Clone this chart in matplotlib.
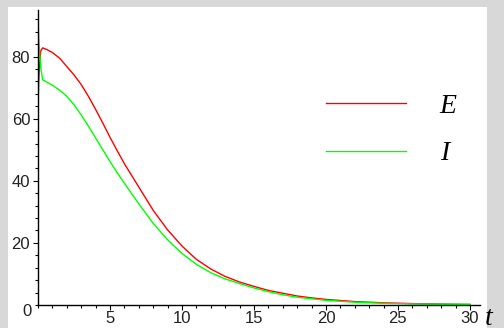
import numpy as np
import matplotlib.pyplot as plt
from matplotlib.patches import Rectangle
from matplotlib.ticker import MultipleLocator

# values
t = [0, 0.05, 0.1, 0.2, 0.33, 0.6, 1, 1.5, 2, 2.5, 3, 3.5, 4, 4.5, 5, 5.5, 6,
     7, 8, 9, 10, 11, 12, 13, 14, 15, 16, 17, 18, 19, 20, 22, 24, 26, 28, 30]
E = [63.5, 72, 77, 82, 82.8, 82.3, 81.3, 79.5, 76.8, 74.1, 71, 67.2, 63, 58.6,
     54, 49.7, 45.5, 38, 30.5, 24.2, 19, 14.7, 11.6, 9.2, 7.4, 6.0, 4.7, 3.8,
     2.9, 2.3, 1.8, 1.1, 0.7, 0.45, 0.3, 0.2]
I = [92, 86, 82, 76, 72.5, 71.8, 70.8, 69.2, 67.2, 64.5, 61.2, 57.6, 53.8,
     50.0, 46.2, 42.6, 39.2, 32.6, 26.3, 21, 16.6, 13.1, 10.4, 8.4, 6.9, 5.5,
     4.3, 3.3, 2.5, 2.0, 1.5, 0.9, 0.55, 0.35, 0.22, 0.15]
x_ticks = [5, 10, 15, 20, 25, 30]
y_ticks = [20, 40, 60, 80]

W, H = 504, 328
fig = plt.figure(figsize=(W / 100, H / 100), dpi=100, facecolor='#d8d8d8')
# white sheet behind the plot
fig.patches.append(Rectangle((8 / W, 0), 479 / W, 321 / H, transform=fig.transFigure,
                             facecolor='white', edgecolor='none', zorder=-10))

ax = fig.add_axes([38 / W, 23 / H, 442 / W, 295 / H])
ax.set_facecolor('none')
ax.plot(t, E, color='#ff0000', lw=1.0, label='E')
ax.plot(t, I, color='#00ff00', lw=1.0, label='I')

ax.set_xlim(0, 30.7)
ax.set_ylim(0, 95)
for s in ['top', 'right']:
    ax.spines[s].set_visible(False)
for s in ['left', 'bottom']:
    ax.spines[s].set_linewidth(1.0)

ax.set_xticks(x_ticks)
ax.set_yticks(y_ticks)
ax.xaxis.set_minor_locator(MultipleLocator(1))
ax.yaxis.set_minor_locator(MultipleLocator(4))
ax.tick_params(which='major', length=3.6, width=0.8, labelsize=12, labelcolor='#222222')
ax.tick_params(which='minor', length=2.2, width=0.8)
ax.tick_params(axis='x', pad=0.7)
ax.tick_params(axis='y', pad=2)
for lab in ax.get_xticklabels() + ax.get_yticklabels():
    lab.set_family('Liberation Sans')

ax.annotate('0', xy=(0, 0), xytext=(-8, -5), textcoords='offset points',
            ha='center', va='center', fontsize=12, color='#222222', family='Liberation Sans')
ax.annotate('t', xy=(1, 0), xycoords='axes fraction', xytext=(6.5, -9.5),
            textcoords='offset points', ha='center', va='center', fontsize=20,
            style='italic', family='Liberation Serif')

leg = ax.legend(loc='upper left', bbox_to_anchor=(0.62, 0.765), frameon=False,
                prop={'family': 'Liberation Serif', 'style': 'italic', 'size': 20},
                handlelength=2.9, handletextpad=1.2, labelspacing=0.8, borderpad=0)

fig.savefig('out.png', dpi=100, facecolor=fig.get_facecolor())
